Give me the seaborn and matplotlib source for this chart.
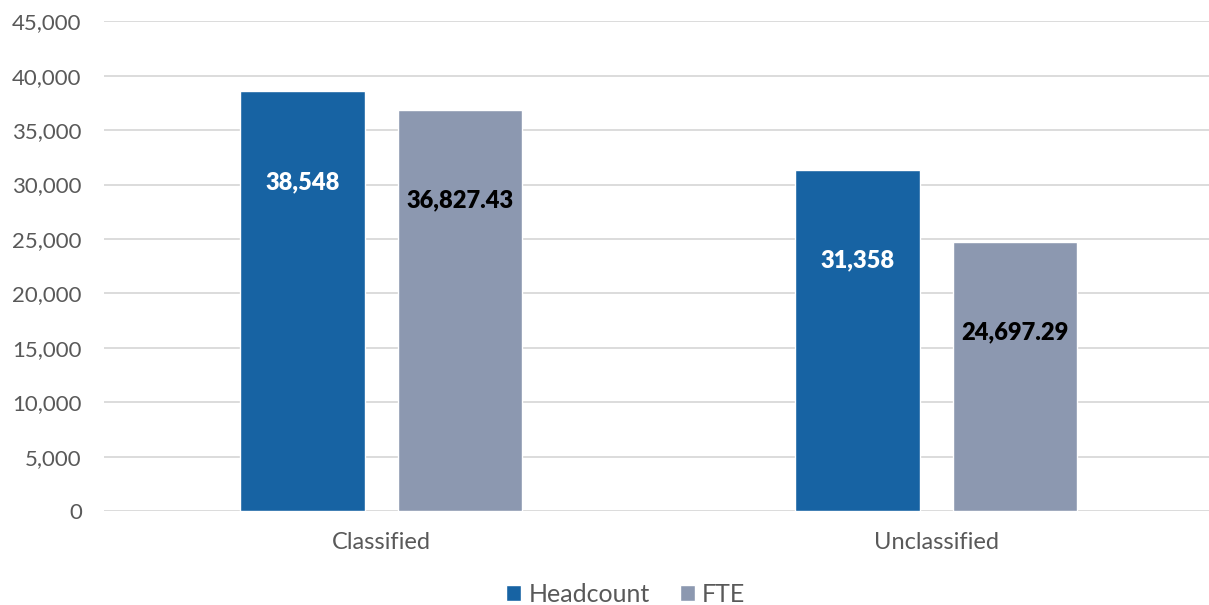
import pandas as pd
import matplotlib.pyplot as plt
import seaborn as sns
from matplotlib.ticker import FuncFormatter, MultipleLocator

# data
categories = ["Classified", "Unclassified"]
headcount = [38548, 31358]
fte = [36827.43, 24697.29]
series = ["Headcount", "FTE"]

df = pd.DataFrame({
    "Category": categories * 2,
    "Series": [series[0]] * 2 + [series[1]] * 2,
    "Value": headcount + fte,
})

sns.set_theme(style="white")
plt.rcParams["font.family"] = ["Lato", "DejaVu Sans"]

fig = plt.figure(figsize=(12.09, 6.05), dpi=100)
ax = fig.add_axes([0.086, 0.155, 0.918, 0.81])

colors = {"Headcount": "#1763a3", "FTE": "#8c98b0"}
sns.barplot(data=df, x="Category", y="Value", hue="Series", palette=colors,
            saturation=1, width=0.568, gap=0.21, ax=ax, legend=True)

ax.set_ylim(0, 45000)
ax.set_xlim(-0.5, 1.5)
ax.yaxis.set_major_locator(MultipleLocator(5000))
ax.yaxis.set_major_formatter(FuncFormatter(lambda v, p: f"{v:,.0f}"))
ax.grid(axis="y", color="#d9d9d9", linewidth=1.3)
ax.set_axisbelow(True)
for s in ax.spines.values():
    s.set_visible(False)
ax.tick_params(axis="y", length=0, pad=16, labelsize=16, labelcolor="#595959")
ax.tick_params(axis="x", length=0, pad=15, labelsize=17, labelcolor="#595959")
ax.set_xlabel("")
ax.set_ylabel("")

# value labels
offset = 8300
for cont, name in zip(ax.containers, series):
    for bar in cont:
        h = bar.get_height()
        txt = f"{h:,.0f}" if name == "Headcount" else f"{h:,.2f}"
        ax.text(bar.get_x() + bar.get_width() / 2, h - offset, txt,
                ha="center", va="center", fontsize=17, fontweight="heavy",
                color="white" if name == "Headcount" else "black")

leg = ax.legend(loc="center", bbox_to_anchor=(0.5 - 0.03, -0.17), ncol=2,
                frameon=False, fontsize=18, handlelength=0.6, handleheight=0.6,
                handletextpad=0.3, columnspacing=1.2)
for t in leg.get_texts():
    t.set_color("#595959")

fig.savefig("out.png", dpi=100)
